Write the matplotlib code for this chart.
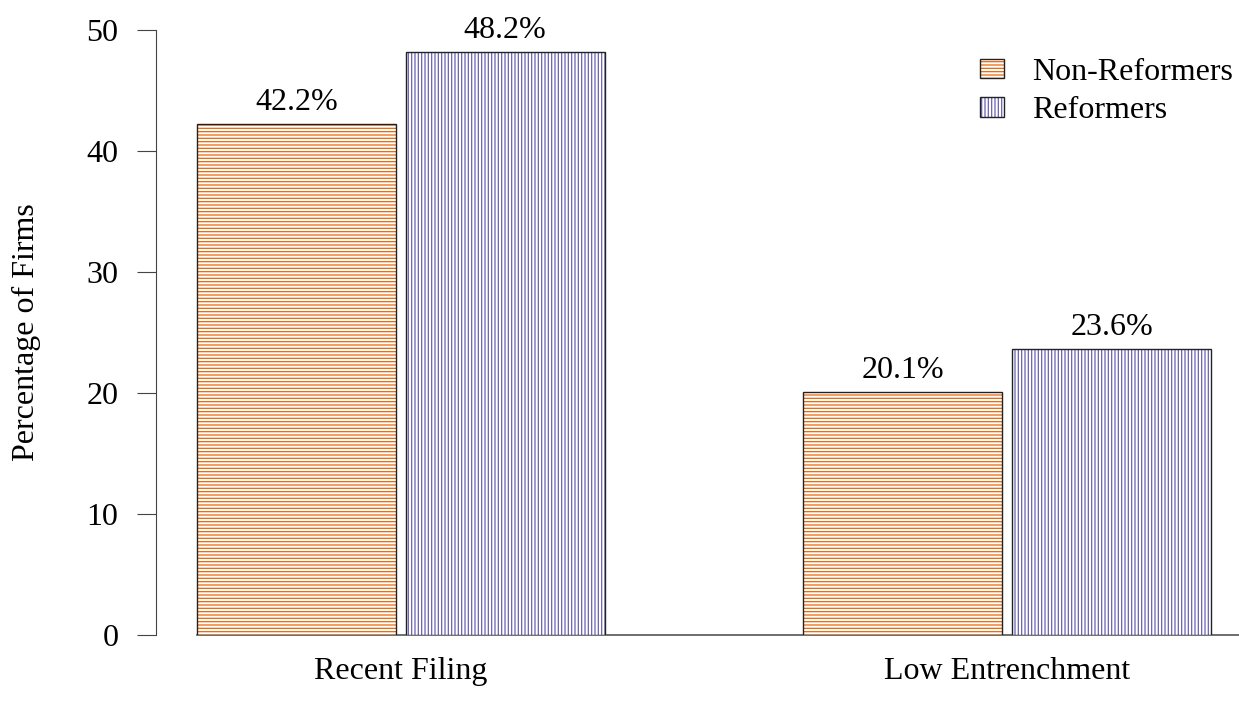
import matplotlib
matplotlib.use('Agg')
from matplotlib import pyplot as plt
from matplotlib.patches import Patch
from matplotlib.legend_handler import HandlerTuple

# data
groups = ['Recent Filing', 'Low Entrenchment']
non_reformers = [42.2, 20.1]
reformers = [48.2, 23.6]
series_names = ['Non-Reformers', 'Reformers']

plt.rcParams['font.family'] = ['Liberation Serif', 'DejaVu Serif']
plt.rcParams['hatch.linewidth'] = 0.9

orange = '#E8680C'
purple = '#6A62B4'
fs = 23

fig = plt.figure(figsize=(12.39, 7.12), dpi=100)
ax = fig.add_axes([156 / 1239, 77 / 712, 1083 / 1239, 605 / 712])

# R-style barplot layout: width 1, space 0.05 inside group, 1 between groups
width = 1.0
lefts_non = [1.0 + i * 3.05 for i in range(len(groups))]
lefts_ref = [x + 1.05 for x in lefts_non]

ax.bar(lefts_non, non_reformers, width=width, align='edge', color='white',
       edgecolor=orange, hatch='-----', linewidth=0)
ax.bar(lefts_non, non_reformers, width=width, align='edge', fill=False,
       edgecolor='#222222', linewidth=1.0)
ax.bar(lefts_ref, reformers, width=width, align='edge', color='white',
       edgecolor=purple, hatch='|||||', linewidth=0)
ax.bar(lefts_ref, reformers, width=width, align='edge', fill=False,
       edgecolor='#222222', linewidth=1.0)

for xs, vals in [(lefts_non, non_reformers), (lefts_ref, reformers)]:
    for x, v in zip(xs, vals):
        ax.annotate(f'{v}%', (x + width / 2, v), xytext=(0, 5),
                    textcoords='offset points', ha='center', va='bottom',
                    fontsize=fs, annotation_clip=False)

ax.set_xlim(0.794, 6.241)
ax.set_ylim(0, 50)

# baseline from first bar to right edge
ax.plot([lefts_non[0], 6.241], [0, 0], color='#555555', linewidth=1.2,
        clip_on=False, zorder=0)

for s in ['top', 'right', 'bottom']:
    ax.spines[s].set_visible(False)
ax.spines['left'].set_bounds(0, 50)
ax.spines['left'].set_color('#444444')
ax.set_yticks([0, 10, 20, 30, 40, 50])
ax.tick_params(axis='y', length=14, pad=13, labelsize=fs, color='#444444')

centers = [(a + b + width) / 2 for a, b in zip(lefts_non, lefts_ref)]
ax.set_xticks(centers)
ax.set_xticklabels(groups)
ax.tick_params(axis='x', length=0, pad=16, labelsize=fs)

ax.set_ylabel('Percentage of Firms', fontsize=fs)
ax.yaxis.set_label_coords(-0.106, 0.5)

handles = []
for c, h in [(orange, '-----'), (purple, '|||||')]:
    handles.append((Patch(facecolor='white', edgecolor=c, hatch=h, linewidth=0),
                    Patch(fill=False, edgecolor='#222222', linewidth=1.0)))
leg = ax.legend(handles, series_names, loc='upper left',
                handler_map={tuple: HandlerTuple(ndivide=1)},
                bbox_to_anchor=((967 - 156) / 1083, (682 - 92) / 605),
                frameon=False, fontsize=fs, handlelength=0.75, handleheight=0.55,
                handletextpad=0.9, labelspacing=0.3, borderaxespad=0)

fig.savefig('out.png', dpi=100)
